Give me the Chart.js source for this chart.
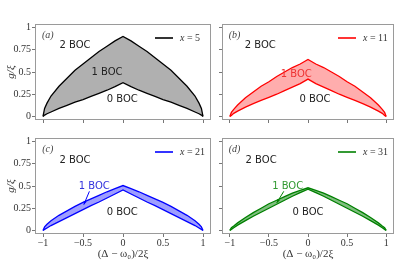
<!DOCTYPE html>
<html><head><meta charset="utf-8">
<script src="https://cdn.jsdelivr.net/npm/chart.js@4.4.0/dist/chart.umd.min.js"></script>
<style>
html,body{margin:0;padding:0;background:#fff;width:397px;height:280px;overflow:hidden;position:relative}
canvas{position:absolute}
</style></head><body>
<canvas id="pa" style="left:0px;top:0px" width="216" height="130"></canvas>
<canvas id="pb" style="left:216px;top:0px" width="181" height="130"></canvas>
<canvas id="pc" style="left:0px;top:130px" width="216" height="150"></canvas>
<canvas id="pd" style="left:216px;top:130px" width="181" height="150"></canvas>
<script>
// ---- data ----
const detuning = [-1,-0.98,-0.95,-0.9,-0.8,-0.7,-0.6,-0.5,-0.4,-0.3,-0.2,-0.1,0,0.1,0.2,0.3,0.4,0.5,0.6,0.7,0.8,0.9,0.95,0.98,1];
const xTicks = [-1,-0.5,0,0.5,1];
const yTicks = [0,0.25,0.5,0.75,1];
const seriesLabels = ['x = 5','x = 11','x = 21','x = 31'];
const panelTags = ['a','b','c','d'];
const regionLabels = ['2 BOC','1 BOC','0 BOC'];

const upperX5  = [0,0.09,0.15,0.23,0.34,0.43,0.52,0.59,0.66,0.73,0.79,0.85,0.9,0.85,0.79,0.73,0.66,0.59,0.52,0.43,0.34,0.23,0.15,0.09,0];
const lowerX5  = [0,0.015,0.03,0.05,0.09,0.125,0.16,0.19,0.225,0.26,0.295,0.335,0.38,0.335,0.295,0.26,0.225,0.19,0.16,0.125,0.09,0.05,0.03,0.015,0];
const upperX11 = [0,0.045,0.08,0.128,0.21,0.275,0.34,0.39,0.45,0.5,0.55,0.59,0.64,0.59,0.55,0.5,0.45,0.39,0.34,0.275,0.21,0.128,0.08,0.045,0];
const lowerX11 = [0,0.012,0.035,0.06,0.105,0.145,0.18,0.215,0.25,0.29,0.33,0.37,0.42,0.37,0.33,0.29,0.25,0.215,0.18,0.145,0.105,0.06,0.035,0.012,0];
const upperX21 = [0,0.04,0.07,0.11,0.17,0.22,0.27,0.315,0.355,0.395,0.435,0.47,0.505,0.47,0.435,0.395,0.355,0.315,0.27,0.22,0.17,0.11,0.07,0.04,0];
const lowerX21 = [0,0.012,0.028,0.055,0.1,0.145,0.19,0.235,0.28,0.32,0.365,0.41,0.455,0.41,0.365,0.32,0.28,0.235,0.19,0.145,0.1,0.055,0.028,0.012,0];
const upperX31 = [0,0.03,0.05,0.085,0.145,0.2,0.25,0.3,0.34,0.38,0.42,0.45,0.48,0.45,0.42,0.38,0.34,0.3,0.25,0.2,0.145,0.085,0.05,0.03,0];
const lowerX31 = [0,0.012,0.03,0.06,0.11,0.16,0.205,0.25,0.295,0.34,0.385,0.425,0.465,0.425,0.385,0.34,0.295,0.25,0.205,0.16,0.11,0.06,0.03,0.012,0];

// ---- helpers ----
const pts = arr => detuning.map((d,i)=>({x:d,y:arr[i]}));
const fmt = v => (v<0?'\u2212':'') + String(Math.abs(v));
const SERIF = '"Liberation Serif", "DejaVu Serif", serif';
const SANS = '"DejaVu Sans", sans-serif';

const deco = {
  id:'deco',
  afterDraw(chart, args, o){
    const ctx = chart.ctx, ca = chart.chartArea;
    const xs = chart.scales.x, ys = chart.scales.y;
    ctx.save();
    // frame
    ctx.strokeStyle = '#9a9a9a'; ctx.lineWidth = 1;
    ctx.strokeRect(Math.round(ca.left)+0.5, Math.round(ca.top)+0.5, Math.round(ca.right-ca.left)-1, Math.round(ca.bottom-ca.top)-1);
    // panel tag
    ctx.fillStyle = '#444'; ctx.textBaseline = 'middle'; ctx.textAlign = 'center';
    ctx.font = 'italic 10px ' + SERIF;
    ctx.fillText('(' + o.tag + ')', xs.getPixelForValue(-0.94), ys.getPixelForValue(0.91));
    // region labels
    ctx.font = '10px ' + SANS;
    o.notes.forEach(n=>{
      ctx.fillStyle = n.c;
      ctx.fillText(n.t, xs.getPixelForValue(n.x), ys.getPixelForValue(n.y));
    });
    // arrow
    if (o.arrow){
      const [x1,y1,x2,y2] = o.arrow;
      const px1 = xs.getPixelForValue(x1), py1 = ys.getPixelForValue(y1);
      const px2 = xs.getPixelForValue(x2), py2 = ys.getPixelForValue(y2);
      ctx.strokeStyle = o.color; ctx.fillStyle = o.color; ctx.lineWidth = 1;
      ctx.beginPath(); ctx.moveTo(px1,py1); ctx.lineTo(px2,py2); ctx.stroke();
      const a = Math.atan2(py2-py1, px2-px1);
      ctx.beginPath(); ctx.moveTo(px2,py2);
      ctx.lineTo(px2-4*Math.cos(a-0.4), py2-4*Math.sin(a-0.4));
      ctx.lineTo(px2-4*Math.cos(a+0.4), py2-4*Math.sin(a+0.4));
      ctx.closePath(); ctx.fill();
    }
    // legend
    const ly = ca.top + 14;
    ctx.strokeStyle = o.color; ctx.lineWidth = 1.6;
    ctx.beginPath(); ctx.moveTo(ca.right-56, ly); ctx.lineTo(ca.right-38, ly); ctx.stroke();
    ctx.fillStyle = '#333'; ctx.textAlign = 'left';
    const lbl = chart.data.datasets[0].label;
    ctx.font = 'italic 10px ' + SERIF;
    const tx = ca.right - 31;
    ctx.fillText(lbl.charAt(0), tx, ly);
    const w = ctx.measureText(lbl.charAt(0)).width;
    ctx.font = '10px ' + SERIF;
    ctx.fillText(lbl.slice(1), tx + w, ly);
    ctx.restore();
  }
};

function makeChart(id, up, lo, label, lineColor, fillColor, showX, showY, pad, yW, xH, tag, notes, arrow){
  return new Chart(document.getElementById(id), {
    type:'line',
    data:{datasets:[
      {label:label, data:pts(up), borderColor:lineColor, backgroundColor:fillColor, borderWidth:1.3, pointRadius:0, tension:0, fill:'+1'},
      {label:label+' lower', data:pts(lo), borderColor:lineColor, backgroundColor:fillColor, borderWidth:1.3, pointRadius:0, tension:0, fill:false}
    ]},
    options:{
      responsive:false, animation:false, devicePixelRatio:1,
      layout:{padding:pad},
      plugins:{legend:{display:false}, tooltip:{enabled:false},
        deco:{tag:tag, color:lineColor, notes:notes, arrow:arrow}},
      scales:{
        x:{type:'linear', min:-1.1, max:1.1,
          afterBuildTicks:s=>{ s.ticks = xTicks.map(v=>({value:v})); },
          afterFit:s=>{ s.height = xH; },
          ticks:{display:showX, font:{family:SERIF,size:10}, color:'#333', padding:0, maxRotation:0, autoSkip:false, callback:v=>fmt(v)},
          grid:{display:true, drawOnChartArea:false, drawTicks:true, tickLength:3, color:'#777'},
          border:{display:false},
          title:{display:showX, text:'(\u0394 \u2212 \u03c9\u2080)/2\u03be', font:{family:SERIF,size:11}, color:'#333', padding:0}
        },
        y:{type:'linear', min:-0.04, max:1.04,
          afterBuildTicks:s=>{ s.ticks = yTicks.map(v=>({value:v})); },
          afterFit:s=>{ s.width = yW; },
          ticks:{display:showY, font:{family:SERIF,size:10}, color:'#333', padding:1, autoSkip:false, callback:v=>String(v)},
          grid:{display:true, drawOnChartArea:false, drawTicks:true, tickLength:3, color:'#777'},
          border:{display:false},
          title:{display:showY, text:'g/\u03be', font:{family:SERIF,size:11,style:'italic'}, color:'#333', padding:{top:5,bottom:0}}
        }
      }
    },
    plugins:[deco]
  });
}

const dark = '#222';
makeChart('pa', upperX5, lowerX5, seriesLabels[0], '#000000', 'rgba(0,0,0,0.31)', false, true,
  {left:0,right:5,top:24,bottom:0}, 35, 10, panelTags[0],
  [{t:regionLabels[0],x:-0.6,y:0.8,c:dark},{t:regionLabels[1],x:-0.2,y:0.5,c:dark},{t:regionLabels[2],x:-0.01,y:0.19,c:dark}], null);
makeChart('pb', upperX11, lowerX11, seriesLabels[1], '#ff0000', 'rgba(255,0,0,0.32)', false, false,
  {left:0,right:3,top:24,bottom:0}, 6, 10, panelTags[1],
  [{t:regionLabels[0],x:-0.61,y:0.8,c:dark},{t:regionLabels[1],x:-0.15,y:0.47,c:'#ee3333'},{t:regionLabels[2],x:0.09,y:0.19,c:dark}], null);
makeChart('pc', upperX21, lowerX21, seriesLabels[2], '#0000ff', 'rgba(0,0,255,0.38)', true, true,
  {left:0,right:5,top:8,bottom:19}, 35, 27, panelTags[2],
  [{t:regionLabels[0],x:-0.6,y:0.79,c:dark},{t:regionLabels[1],x:-0.36,y:0.5,c:'#3333dd'},{t:regionLabels[2],x:-0.01,y:0.2,c:dark}], [-0.42,0.44,-0.49,0.29]);
makeChart('pd', upperX31, lowerX31, seriesLabels[3], '#008000', 'rgba(0,128,0,0.5)', true, false,
  {left:0,right:3,top:8,bottom:19}, 6, 27, panelTags[3],
  [{t:regionLabels[0],x:-0.6,y:0.79,c:dark},{t:regionLabels[1],x:-0.26,y:0.5,c:'#339933'},{t:regionLabels[2],x:0,y:0.2,c:dark}], [-0.31,0.44,-0.4,0.31]);
</script>
</body></html>
